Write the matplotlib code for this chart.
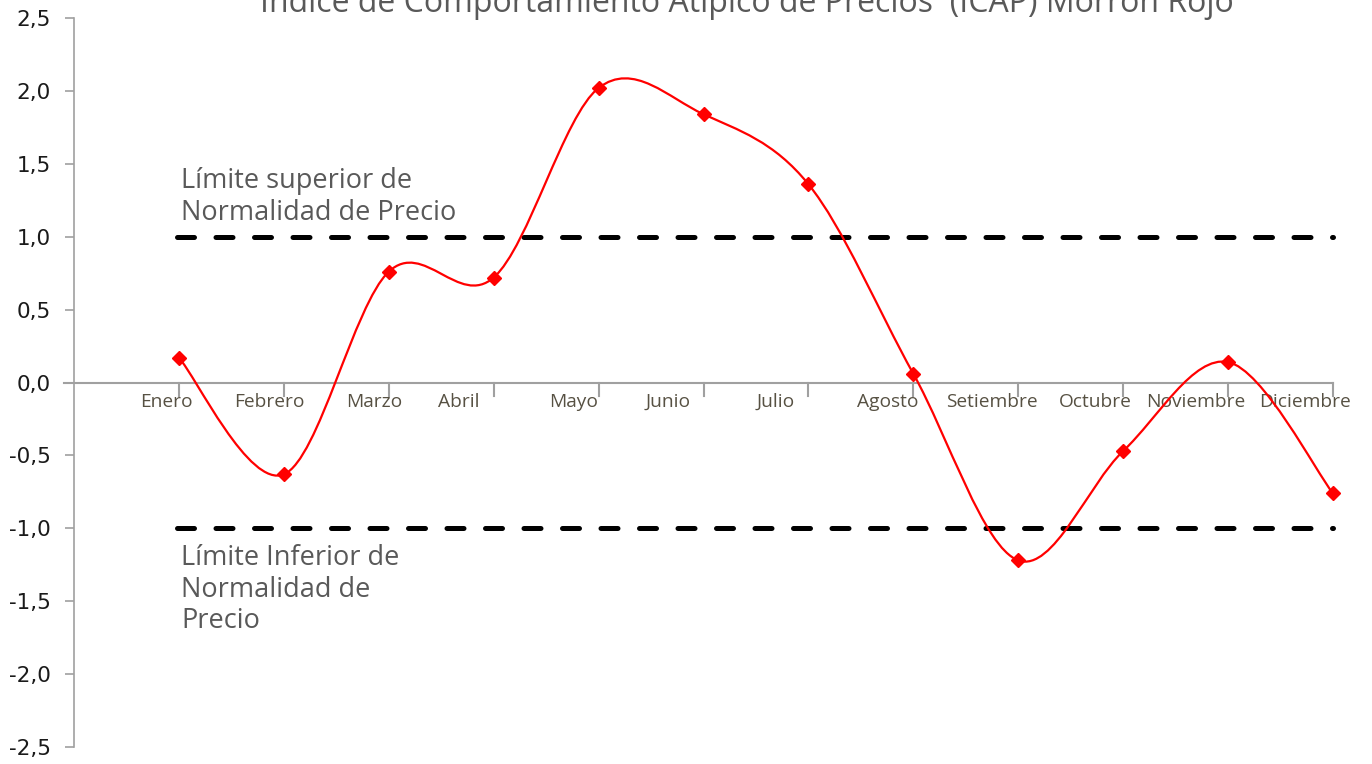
import numpy as np
import matplotlib
matplotlib.use("Agg")
import matplotlib.pyplot as plt
from matplotlib.path import Path
from matplotlib.patches import PathPatch

# ---- data ----
months = ["Enero", "Febrero", "Marzo", "Abril", "Mayo", "Junio", "Julio",
          "Agosto", "Setiembre", "Octubre", "Noviembre", "Diciembre"]
icap = [0.17, -0.63, 0.76, 0.72, 2.02, 1.84, 1.36, 0.06, -1.22, -0.47, 0.14, -0.76]
upper_limit = 1.0
lower_limit = -1.0
yticks = [-2.5, -2.0, -1.5, -1.0, -0.5, 0.0, 0.5, 1.0, 1.5, 2.0, 2.5]
title = "Índice de Comportamiento Atípico de Precios  (ICAP) Morrón Rojo"
upper_text = "Límite superior de\nNormalidad de Precio"
lower_text = "Límite Inferior de\nNormalidad de\nPrecio"

# ---- layout ----
label_shift = [-0.12, -0.14, -0.14, -0.33, -0.24, -0.34, -0.31,
               -0.24, -0.25, -0.27, -0.31, -0.27]

fig = plt.figure(figsize=(13.72, 7.64), dpi=100)
ax = fig.add_axes([74/1372, 1-747/764, (1333-74)/1372, (747-18)/764])

x = np.arange(1, len(months) + 1)
y = np.array(icap, dtype=float)

# Excel-like smoothed line (Catmull-Rom to Bezier)
verts = [(x[0], y[0])]
codes = [Path.MOVETO]
n = len(x)
for i in range(n - 1):
    p0 = np.array([x[max(i-1, 0)], y[max(i-1, 0)]])
    p1 = np.array([x[i], y[i]])
    p2 = np.array([x[i+1], y[i+1]])
    p3 = np.array([x[min(i+2, n-1)], y[min(i+2, n-1)]])
    c1 = p1 + (p2 - p0) / 6.0
    c2 = p2 - (p3 - p1) / 6.0
    verts += [tuple(c1), tuple(c2), tuple(p2)]
    codes += [Path.CURVE4] * 3
patch = PathPatch(Path(verts, codes), facecolor="none", edgecolor="#ff0000",
                  lw=1.6, zorder=4)
ax.add_patch(patch)
ax.plot(x, y, linestyle="none", marker="D", markersize=7, color="#ff0000",
        zorder=5, clip_on=False)

# limit lines
for lim in (upper_limit, lower_limit):
    ax.plot([x[0] - 0.02, x[-1]], [lim, lim], color="black", lw=3.6,
            dashes=(3.4, 4.3), dash_capstyle="round", zorder=3, clip_on=False)

ax.text(1.02, 1.27, upper_text, fontsize=19.5, color="#595959",
        family="Open Sans", va="center", ha="left", linespacing=1.18)
ax.text(1.02, -1.42, lower_text, fontsize=19.5, color="#595959",
        family="Open Sans", va="center", ha="left", linespacing=1.18)

ax.set_xlim(0, 12)
ax.set_ylim(-2.5, 2.5)

# axes styling
for s in ("top", "right", "bottom"):
    ax.spines[s].set_visible(False)
ax.spines["left"].set_color("#a0a0a0")
ax.spines["left"].set_linewidth(1.2)
ax.axhline(0, xmin=-0.008, xmax=1.0, color="#a0a0a0", lw=1.5, clip_on=False,
           zorder=2)

ax.set_yticks(yticks)
ax.set_yticklabels([f"{v:.1f}".replace(".", ",") for v in yticks],
                   fontsize=15.5, family="DejaVu Sans", color="#1a1a1a")
ax.tick_params(axis="y", direction="out", length=6.5, color="#a0a0a0",
               width=1.2, pad=10)

ax.set_xticks([])
for xi in x:
    ax.plot([xi, xi], [0, -0.09], color="#a0a0a0", lw=1.5, zorder=2,
            clip_on=False)
for xi, lab, sh in zip(x, months, label_shift):
    ax.text(xi + sh, -0.135, lab, fontsize=13.8, family="Open Sans",
            color="#575143", ha="center", va="center")

fig.text(747/1372, 1-12/764, title, fontsize=23, color="#595959",
         family="Open Sans", ha="center", va="baseline")

fig.savefig("out.png", dpi=100)
